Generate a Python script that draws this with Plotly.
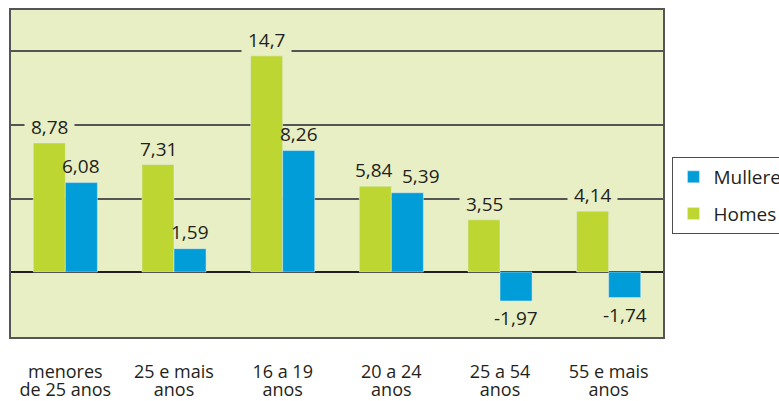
import plotly.graph_objects as go

font_family = "Open Sans, Noto Sans, sans-serif"

categories = ["menores de 25 anos", "25 e mais anos", "16 a 19 anos",
              "20 a 24 anos", "25 a 54 anos", "55 e mais anos"]
tick_line1 = ["menores", "25 e mais", "16 a 19", "20 a 24", "25 a 54", "55 e mais"]
tick_line2 = ["de 25 anos", "anos", "anos", "anos", "anos", "anos"]
homes = [8.78, 7.31, 14.7, 5.84, 3.55, 4.14]
mulleres = [6.08, 1.59, 8.26, 5.39, -1.97, -1.74]

green = "#BDD631"
blue = "#009DD8"
bg = "#E8EFC4"
ink = "#231F20"

fig = go.Figure()
fig.add_trace(go.Bar(name="Homes", x=categories, y=homes, marker_color=green,
                     legendgroup="h", legendrank=2))
fig.add_trace(go.Bar(name="Mulleres", x=categories, y=mulleres, marker_color=blue,
                     legendgroup="m", legendrank=1))


def fmt(v):
    return f"{v}".replace(".", ",")


# etiquetas de valor; as de Homes levan fondo para cortar a reixa
for c, h, m in zip(categories, homes, mulleres):
    close = m > 0 and abs(h - m) < 1
    fig.add_annotation(x=c, y=h, text="&nbsp;" + fmt(h) + "&nbsp;", showarrow=False,
                       xshift=-16 - (2 if close else 0), yanchor="bottom", yshift=1,
                       bgcolor=bg, borderpad=1, font=dict(size=19, color=ink))
    fig.add_annotation(x=c, y=m, text=fmt(m), showarrow=False,
                       xshift=16 + (14 if close else 0),
                       yanchor="bottom" if m >= 0 else "top",
                       yshift=2 if m >= 0 else -2,
                       font=dict(size=19, color=ink))

# segunda liña das etiquetas do eixo x
fig.add_trace(go.Scatter(x=[0, 5], y=[None, None], xaxis="x2", showlegend=False,
                         hoverinfo="skip"))

fig.update_layout(
    width=779, height=401,
    margin=dict(l=11, r=116, t=10, b=64, autoexpand=False),
    paper_bgcolor="white", plot_bgcolor=bg,
    barmode="group", bargap=0.41, bargroupgap=0,
    font=dict(family=font_family, size=19, color=ink),
    showlegend=True,
    legend=dict(traceorder="grouped", x=1.0145, xanchor="left", y=0.5505,
                yanchor="top", bgcolor="white", bordercolor="#4D4D4D", borderwidth=1,
                font=dict(size=19), itemwidth=30, tracegroupgap=9),
    xaxis2=dict(overlaying="x", side="bottom", range=[-0.5, 5.5], tickmode="array",
                tickvals=list(range(len(tick_line2))), ticktext=tick_line2,
                tickfont=dict(size=18),
                ticks="outside", ticklen=36, tickcolor="rgba(0,0,0,0)",
                showgrid=False, zeroline=False, showline=False, automargin=False),
)
fig.layout.xaxis.update(showline=True, mirror=True, linecolor="#555555", linewidth=2,
                        tickmode="array", tickvals=categories, ticktext=tick_line1,
                        tickfont=dict(size=18),
                        ticks="outside", ticklen=17, tickcolor="rgba(0,0,0,0)",
                        showgrid=False, automargin=False)
fig.update_yaxes(range=[-4.42, 17.82], dtick=5, showticklabels=False,
                 showgrid=True, gridcolor="#555555", gridwidth=1.5,
                 zeroline=True, zerolinecolor=ink, zerolinewidth=1.5,
                 showline=True, mirror=True, linecolor="#555555", linewidth=2,
                 automargin=False)

fig.write_html("out.html", config={"displayModeBar": False},
               post_script="document.body.style.margin='0px';")
